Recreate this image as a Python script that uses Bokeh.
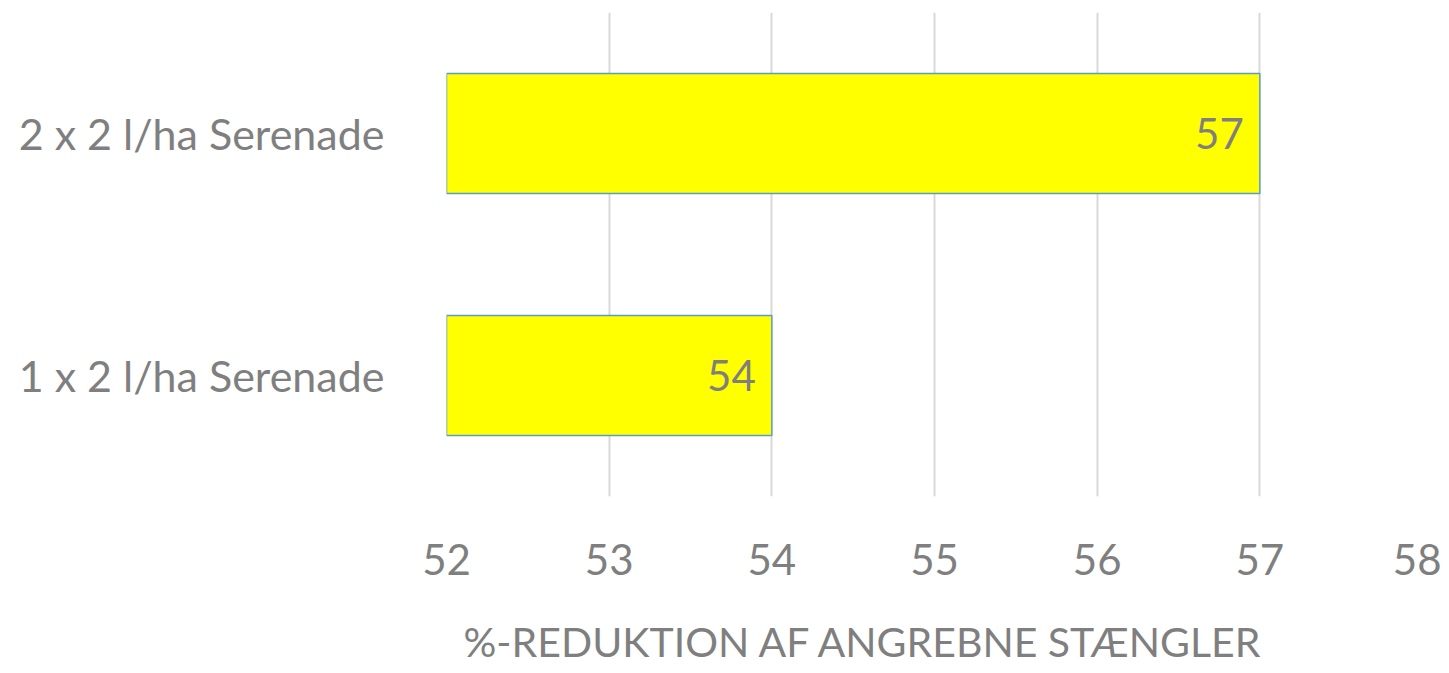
from bokeh.plotting import figure
from bokeh.models import FactorRange, Range1d, ColumnDataSource, FixedTicker, Title
from bokeh.core.properties import value
from bokeh.embed import file_html
from bokeh.resources import INLINE

categories = ["1 x 2 l/ha Serenade", "2 x 2 l/ha Serenade"]
values = [54, 57]
labels = ["54", "57"]
x_ticks = [52, 53, 54, 55, 56, 57, 58]
x_title = "%-REDUKTION AF ANGREBNE STÆNGLER"

FONT = "Lato"
GREY = "#7f7f7f"
W, H = 1441, 665

src = ColumnDataSource(dict(cat=categories, val=values, base=[52] * len(values), lab=labels))

p = figure(
    width=W, height=H,
    y_range=FactorRange(factors=categories, range_padding=0),
    x_range=Range1d(52, 58),
    output_backend="svg", toolbar_location=None,
    min_border_left=446, min_border_right=W - 1422, min_border_top=12, min_border_bottom=H - 497,
)
p.outline_line_color = None
p.background_fill_color = "white"
p.border_fill_color = "white"

p.hbar(y="cat", left="base", right="val", height=0.495, source=src,
       fill_color="#ffff00", line_color="#5b9bd5", line_width=1.5)

p.text(x="val", y="cat", text="lab", source=src, x_offset=-16,
       text_align="right", text_baseline="middle",
       text_font=value(FONT), text_font_size="42px", text_color=GREY)

p.xaxis.ticker = FixedTicker(ticks=x_ticks)
p.xaxis.axis_line_color = None
p.xaxis.major_tick_line_color = None
p.xaxis.minor_tick_line_color = None
p.xaxis.major_label_text_font = FONT
p.xaxis.major_label_text_font_size = "42px"
p.xaxis.major_label_text_color = GREY
p.xaxis.major_label_standoff = 41
# spacer that pushes the title below the tick labels
p.xaxis.axis_label = " "
p.xaxis.axis_label_text_font_size = "12px"
p.xaxis.axis_label_standoff = 20

p.add_layout(Title(text=x_title, align="left", offset=17, standoff=0,
                   text_font=FONT, text_font_size="41px", text_font_style="normal",
                   text_color=GREY), "below")

p.yaxis.axis_line_color = None
p.yaxis.major_tick_line_color = None
p.yaxis.minor_tick_line_color = None
p.yaxis.major_label_text_font = FONT
p.yaxis.major_label_text_font_size = "43px"
p.yaxis.major_label_text_color = GREY
p.yaxis.major_label_standoff = 56

p.ygrid.grid_line_color = None
p.xgrid.grid_line_color = "#d9d9d9"
p.xgrid.grid_line_width = 2

open("out.html", "w").write(file_html(p, INLINE))
